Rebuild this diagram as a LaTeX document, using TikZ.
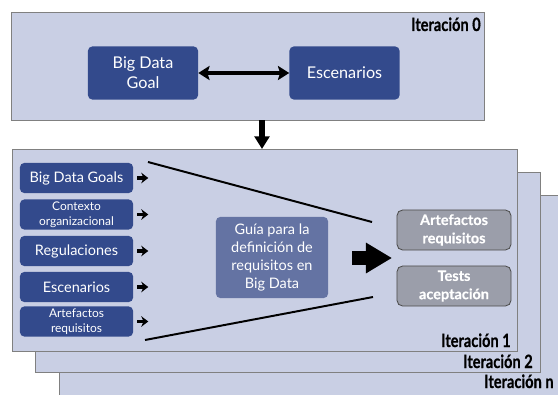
\documentclass[tikz,border=0pt]{standalone}
\usepackage{fontspec}
\setmainfont{Lato}
\newfontfamily\iterfont[BoldFeatures={FakeBold=0.6}]{Lato}
\newfontfamily\outfont[BoldFeatures={FakeBold=0.3}]{Lato}
\usetikzlibrary{arrows.meta,positioning}

\definecolor{fondo}{HTML}{C9CFE4}
\definecolor{borde}{HTML}{808080}
\definecolor{azul}{HTML}{334A8C}
\definecolor{guia}{HTML}{6473A3}
\definecolor{gris}{HTML}{9B9EAA}

\newcommand{\iterlabel}[1]{\scalebox{0.8}[1]{\iterfont\bfseries #1}}

\begin{document}
\begin{tikzpicture}[x=0.025cm,y=-0.025cm]
	\tikzstyle{Frame}	= [draw=borde, fill=fondo, line width=0.6pt]
	\tikzstyle{IterLbl}	= [inner sep=0pt, font=\fontsize{13}{13}\selectfont]
	\tikzstyle{Goal}	= [rounded corners=3pt, fill=azul, text=white, align=center, inner sep=0pt, minimum width=2.75cm, minimum height=1.325cm, font=\fontsize{11.5}{14}\selectfont]
	\tikzstyle{Input}	= [rounded corners=3pt, fill=azul, text=white, align=center, inner sep=0pt, minimum width=2.825cm, minimum height=0.75cm, font=\fontsize{10.3}{11}\selectfont]
	\tikzstyle{Small}	= [font=\fontsize{8.5}{10.5}\selectfont]
	\tikzstyle{Guide}	= [rounded corners=3pt, fill=guia, text=white, align=center, inner sep=0pt, minimum width=2.8cm, minimum height=2.025cm, font=\fontsize{10.3}{13}\selectfont]
	\tikzstyle{Output}	= [rounded corners=4pt, draw=black!70, line width=0.6pt, fill=gris, text=white, align=center, inner sep=0pt, minimum width=2.85cm, minimum height=1cm, font=\fontsize{10.3}{13}\selectfont\outfont\bfseries]
	\tikzstyle{Feed}	= [line width=2.4pt, -{Stealth[length=5pt, width=7.5pt]}]
	\tikzstyle{Funnel}	= [line width=1.4pt]

	\clip (0,0) rectangle (558,394);

	% iteracion 0
	\draw [Frame] (11,12) rectangle (484,120);
	\node (it0) at (481,31) [IterLbl, anchor=base east] {\iterlabel{Iteración 0}};
	\node (goal) at (143,73) [Goal] {Big Data\\Goal};
	\node (esc) at (344.5,73) [Goal] {Escenarios};
	\draw [line width=2.8pt, {Stealth[length=8pt, width=10pt, inset=1.5pt]}-{Stealth[length=8pt, width=10pt, inset=1.5pt]}] (goal) -- (esc);

	% capas de iteraciones
	\draw [Frame] (59,195) rectangle (600,440);
	\draw [Frame] (35,172) rectangle (540,372);
	\draw [Frame] (12,149) rectangle (517,351);
	\node (itn) at (484,388) [IterLbl, anchor=base west] {\iterlabel{Iteración n}};
	\node (it2) at (533,368) [IterLbl, anchor=base east] {\iterlabel{Iteración 2}};
	\node (it1) at (511,347) [IterLbl, anchor=base east] {\iterlabel{Iteración 1}};

	\coordinate (s0) at (262,120);
	\coordinate (s1) at (262,149);
	\draw [line width=4.3pt, -{Triangle[length=9pt, width=10.5pt]}] (s0) -- (s1);

	% entradas
	\node (bdg) at (76.5,178) [Input] {Big Data Goals};
	\node (ctx) at (76.5,214.5) [Input, Small] {Contexto\\organizacional};
	\node (reg) at (76.5,251) [Input] {Regulaciones};
	\node (esc1) at (76.5,287) [Input] {Escenarios};
	\node (art) at (76.5,321.5) [Input, Small] {Artefactos\\requisitos};

	\foreach \n in {bdg,ctx,reg,esc1,art}
		\draw [Feed] ([xshift=0.1cm]\n.east) -- ([xshift=0.375cm]\n.east);

	% embudo
	\coordinate (ft1) at (148,162);
	\coordinate (ft2) at (372,222);
	\coordinate (fb1) at (145,340);
	\coordinate (fb2) at (373,297);
	\draw [Funnel] (ft1) -- (ft2);
	\draw [Funnel] (fb1) -- (fb2);

	\node (guide) at (272,257.5) [Guide] {Guía para la\\definición de\\requisitos en\\Big Data};
	\coordinate (b0) at (352,258);
	\coordinate (b1) at (392,258);
	\draw [line width=10pt, -{Triangle[length=18.5pt, width=20.5pt]}] (b0) -- (b1);

	% salidas
	\node (oart) at (454,230) [Output] {Artefactos\\requisitos};
	\node (test) at (454,286) [Output] {Tests\\aceptación};
\end{tikzpicture}
\end{document}
